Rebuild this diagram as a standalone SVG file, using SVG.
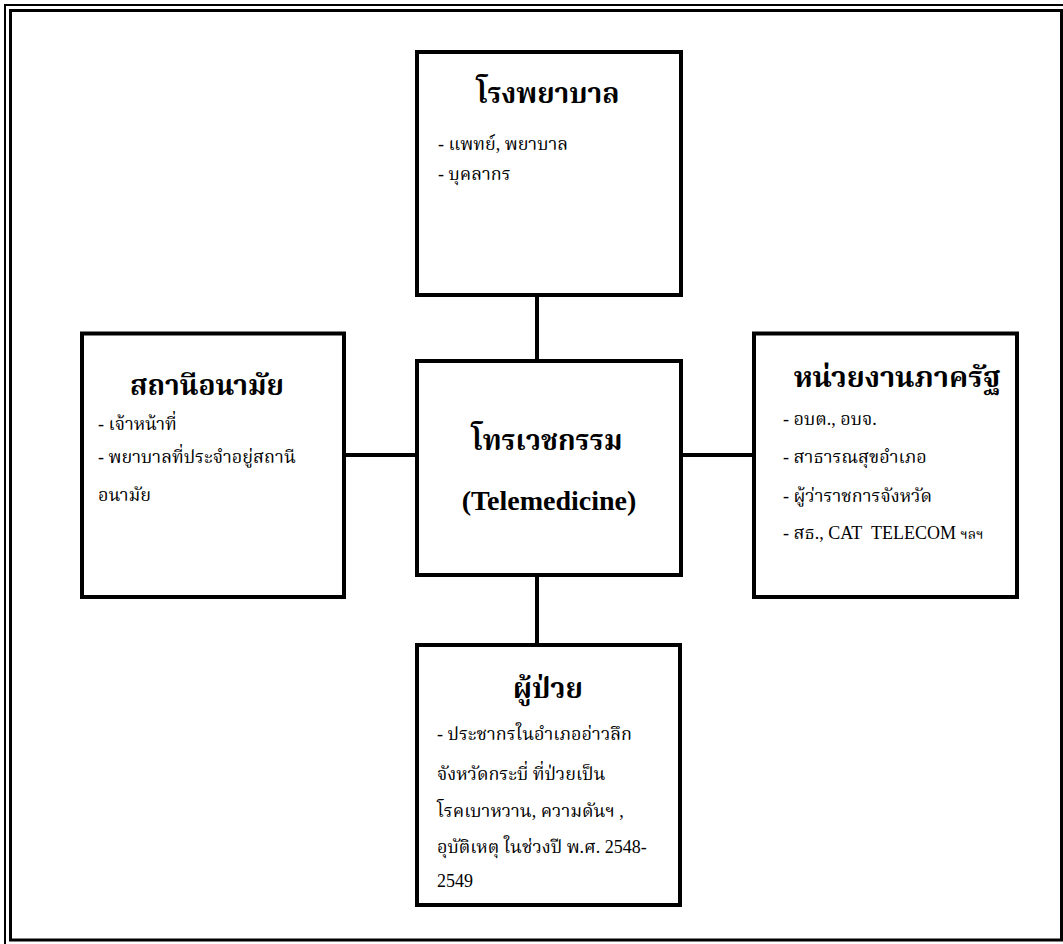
<svg xmlns="http://www.w3.org/2000/svg" width="1063" height="944" viewBox="0 0 1063 944">
<style>
.box{fill:#fff;stroke:#000;stroke-width:4}
.ln{stroke:#000;stroke-width:4;fill:none}
text{font-family:"Liberation Serif","Noto Serif Thai","Noto Sans Thai","DejaVu Sans",serif;fill:#000}
.t{font-size:28px;font-weight:bold;text-anchor:middle}
.b{font-size:18px}
</style>
<rect width="1063" height="944" fill="#fff"/>
<g id="frame">
<path d="M5,944 V5 H1063" fill="none" stroke="#000" stroke-width="2"/>
<rect x="10.5" y="10.5" width="1051" height="929.5" fill="none" stroke="#000" stroke-width="3"/>
</g>
<g id="connectors">
<line class="ln" x1="537" y1="295" x2="537" y2="361"/>
<line class="ln" x1="537" y1="575" x2="537" y2="645"/>
<line class="ln" x1="344" y1="455" x2="417" y2="455"/>
<line class="ln" x1="681" y1="455" x2="754" y2="455"/>
</g>
<g id="hospital">
<rect class="box" x="417" y="52" width="264" height="243"/>
<text class="t" x="548" y="103">โรงพยาบาล</text>
<text class="b" x="438" y="150">- แพทย์, พยาบาล</text>
<text class="b" x="438" y="180">- บุคลากร</text>
</g>
<g id="health-station">
<rect class="box" x="82" y="333.5" width="262" height="263.5"/>
<text class="t" x="207" y="395">สถานีอนามัย</text>
<text class="b" x="98" y="430">- เจ้าหน้าที่</text>
<text class="b" x="98" y="463">- พยาบาลที่ประจำอยู่สถานี</text>
<text class="b" x="98" y="501">อนามัย</text>
</g>
<g id="telemedicine">
<rect class="box" x="417" y="361" width="264" height="214"/>
<text class="t" x="547" y="450">โทรเวชกรรม</text>
<text class="t" x="549" y="510">(Telemedicine)</text>
</g>
<g id="government">
<rect class="box" x="754" y="333.5" width="263" height="263.5"/>
<text class="t" x="897" y="387" style="font-size:29px">หน่วยงานภาครัฐ</text>
<text class="b" x="783" y="425">- อบต., อบจ.</text>
<text class="b" x="783" y="463">- สาธารณสุขอำเภอ</text>
<text class="b" x="783" y="502">- ผู้ว่าราชการจังหวัด</text>
<text class="b" x="783" y="539">- สธ., CAT&#160; TELECOM <tspan style="font-size:14px">ฯลฯ</tspan></text>
</g>
<g id="patient">
<rect class="box" x="417" y="645" width="263" height="260"/>
<text class="t" x="548" y="698">ผู้ป่วย</text>
<text class="b" x="437" y="740">- ประชากรในอำเภออ่าวลึก</text>
<text class="b" x="437" y="780">จังหวัดกระบี่ ที่ป่วยเป็น</text>
<text class="b" x="437" y="817">โรคเบาหวาน, ความดันฯ ,</text>
<text class="b" x="437" y="853">อุบัติเหตุ ในช่วงปี พ.ศ. 2548-</text>
<text class="b" x="437" y="887">2549</text>
</g>
</svg>
